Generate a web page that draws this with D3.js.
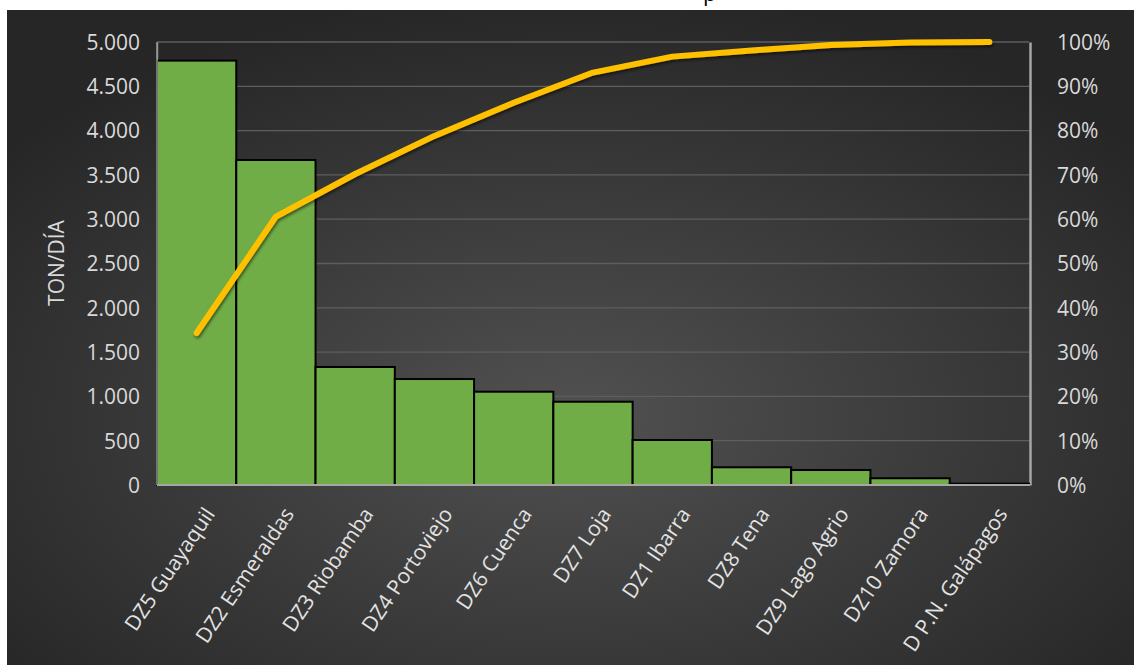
<!DOCTYPE html>
<meta charset="utf-8">
<script src="https://d3js.org/d3.v7.min.js"></script>
<style>
  body { margin: 0; background: #ffffff; }
  text { font-family: "Open Sans", sans-serif; }
</style>
<div id="my_dataviz"></div>
<script>

// data
var zones = ["DZ5 Guayaquil", "DZ2 Esmeraldas", "DZ3 Riobamba", "DZ4 Portoviejo", "DZ6 Cuenca",
             "DZ7 Loja", "DZ1 Ibarra", "DZ8 Tena", "DZ9 Lago Agrio", "DZ10 Zamora", "D P.N. Galápagos"];
var tonDia = [4790, 3668, 1332, 1196, 1053, 940, 508, 200, 169, 76, 15];
var cumPct = [34.3, 60.6, 70.2, 78.8, 86.3, 93.1, 96.7, 98.1, 99.3, 99.9, 100];
var leftTicks = [0, 500, 1000, 1500, 2000, 2500, 3000, 3500, 4000, 4500, 5000];
var rightTicks = [0, 10, 20, 30, 40, 50, 60, 70, 80, 90, 100];

var W = 1134, H = 665;
var margin = {top: 42, right: 105, bottom: 180, left: 157},
    width = W - margin.left - margin.right,
    height = H - margin.top - margin.bottom;

var svg = d3.select("#my_dataviz")
    .append("svg")
    .attr("width", W)
    .attr("height", H);

var defs = svg.append("defs");
var grad = defs.append("radialGradient")
    .attr("id", "bg")
    .attr("cx", "50%").attr("cy", "62%").attr("r", "65%");
grad.append("stop").attr("offset", "0%").attr("stop-color", "#515151");
grad.append("stop").attr("offset", "100%").attr("stop-color", "#262626");

var shadow = defs.append("filter").attr("id", "shadow")
    .attr("x", "-10%").attr("y", "-10%").attr("width", "120%").attr("height", "130%");
shadow.append("feDropShadow")
    .attr("dx", 1).attr("dy", 2).attr("stdDeviation", 1.5)
    .attr("flood-color", "#000").attr("flood-opacity", 0.55);

// dark panel, white strip on top and left
svg.append("rect")
    .attr("x", 7).attr("y", 10)
    .attr("width", W - 7).attr("height", H - 10)
    .style("fill", "url(#bg)");

// bit of the cut off title (only the descender shows)
svg.append("text")
    .attr("x", 703).attr("y", 1)
    .style("font-size", "22px")
    .style("fill", "#000")
    .text("p");

var g = svg.append("g")
    .attr("transform", "translate(" + margin.left + "," + margin.top + ")");

var x = d3.scaleBand()
    .domain(zones)
    .range([0, width])
    .padding(0);

var y = d3.scaleLinear()
    .domain([0, 5000])
    .range([height, 0]);

var y2 = d3.scaleLinear()
    .domain([0, 100])
    .range([height, 0]);

var esFmt = d3.formatLocale({decimal: ",", thousands: ".", grouping: [3], currency: ["", ""]}).format(",d");

// gridlines
g.append("g")
    .selectAll("line")
    .data(leftTicks.slice(1))
    .enter()
    .append("line")
    .attr("x1", 0).attr("x2", width)
    .attr("y1", function(d) { return y(d); })
    .attr("y2", function(d) { return y(d); })
    .style("stroke", "#5e5e5e")
    .style("stroke-width", 1.3);

// left axis
var yAxis = g.append("g")
    .call(d3.axisLeft(y).tickValues(leftTicks).tickFormat(esFmt).tickSize(0).tickPadding(17));
yAxis.select(".domain").style("stroke", "#8c8c8c").style("stroke-width", 1.5);
yAxis.selectAll("text")
    .style("font-size", "21px")
    .style("fill", "#d9d9d9")
    .attr("dy", "0.35em");

// right axis
var yAxis2 = g.append("g")
    .attr("transform", "translate(" + (width + 1) + ",0)")
    .call(d3.axisRight(y2).tickValues(rightTicks).tickFormat(function(d) { return d + "%"; }).tickSize(0).tickPadding(27));
yAxis2.select(".domain").style("stroke", "#a6a6a6").style("stroke-width", 2.5);
yAxis2.selectAll("text")
    .style("font-size", "21px")
    .style("fill", "#d9d9d9")
    .attr("dy", "0.35em");

// bars
g.append("g")
    .selectAll("rect")
    .data(tonDia)
    .enter()
    .append("rect")
    .attr("x", function(d, i) { return x(zones[i]); })
    .attr("y", function(d) { return y(d); })
    .attr("width", x.bandwidth())
    .attr("height", function(d) { return height - y(d); })
    .style("fill", "#70ad47")
    .style("stroke", "#000")
    .style("stroke-width", 2);

// bottom and left axis lines
g.append("line")
    .attr("x1", 0).attr("x2", width + 1)
    .attr("y1", height).attr("y2", height)
    .style("stroke", "#a6a6a6")
    .style("stroke-width", 2);
g.append("line")
    .attr("x1", 0).attr("x2", 0)
    .attr("y1", 0).attr("y2", height)
    .style("stroke", "#9a9a9a")
    .style("stroke-width", 1.5);

// category labels
g.append("g")
    .selectAll("text")
    .data(zones)
    .enter()
    .append("text")
    .attr("transform", function(d) {
        return "translate(" + (x(d) + x.bandwidth() / 2 + 19) + "," + (height + 29) + ") rotate(-56)";
    })
    .style("text-anchor", "end")
    .style("font-size", "21px")
    .style("fill", "#e3e3e3")
    .text(function(d) { return d; });

// cumulative line
var line = d3.line()
    .x(function(d, i) { return x(zones[i]) + x.bandwidth() / 2; })
    .y(function(d) { return y2(d); });

g.append("path")
    .datum(cumPct)
    .attr("d", line)
    .attr("filter", "url(#shadow)")
    .style("fill", "none")
    .style("stroke", "#ffc000")
    .style("stroke-width", 6)
    .style("stroke-linecap", "round")
    .style("stroke-linejoin", "round");

// axis title
svg.append("text")
    .attr("transform", "translate(64,263) rotate(-90)")
    .style("text-anchor", "middle")
    .style("font-size", "21px")
    .style("fill", "#d9d9d9")
    .text("TON/DÍA");

</script>
